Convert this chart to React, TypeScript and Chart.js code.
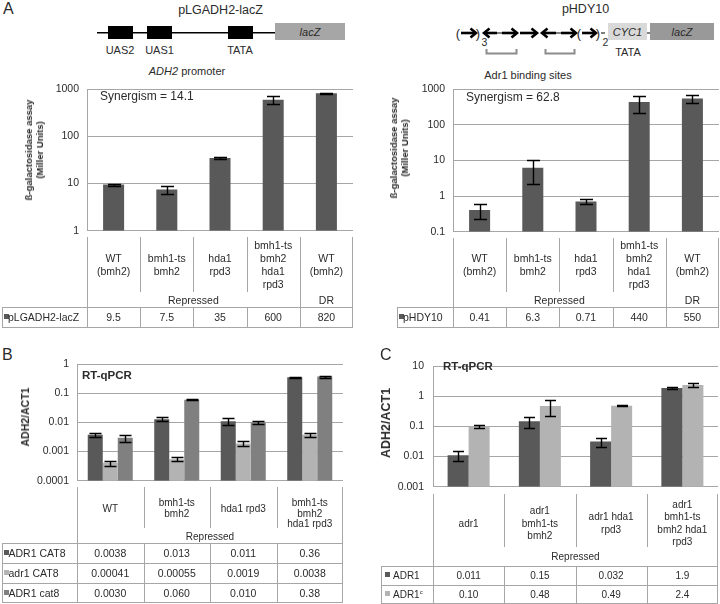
import React, { useEffect, useRef } from "react";
import { Chart, registerables } from "chart.js";
Chart.register(...registerables);

const FONT = '"Liberation Sans", Arial, Helvetica, sans-serif';
const GRID = "#a6a6a6";
const TEXT = "#2b2b2b";
const DARK = "#595959";
const LIGHT = "#b3b3b3";
const MID = "#808080";

// ---------- Panel A ----------
const aCategories = [
  ["WT", "(bmh2)"],
  ["bmh1-ts", "bmh2"],
  ["hda1", "rpd3"],
  ["bmh1-ts", "bmh2", "hda1", "rpd3"],
  ["WT", "(bmh2)"],
];
const aGroups = [
  { from: 0, to: 3, text: "Repressed" },
  { from: 4, to: 4, text: "DR" },
];
const aLeftName = "pLGADH2-lacZ";
const aLeftValues = [9.5, 7.5, 35, 600, 820];
const aLeftErrors = [0.45, 1.5, 1, 110, 15];
const aLeftTicks = [1, 10, 100, 1000];
const aRightName = "pHDY10";
const aRightValues = [0.41, 6.3, 0.71, 440, 550];
const aRightErrors = [0.18, 4.1, 0.12, 225, 130];
const aRightTicks = [0.1, 1, 10, 100, 1000];
const aYTitle = ["ß-galactosidase assay", "(Miller Units)"];

// ---------- Panel B ----------
const bCategories = [["WT"], ["bmh1-ts", "bmh2"], ["hda1 rpd3"], ["bmh1-ts", "bmh2", "hda1 rpd3"]];
const bSeriesNames = ["ADR1 CAT8", "adr1 CAT8", "ADR1 cat8"];
const bADR1CAT8 = [0.0038, 0.013, 0.011, 0.36];
const bADR1CAT8Err = [0.0006, 0.002, 0.003, 0.02];
const badr1CAT8 = [0.00041, 0.00055, 0.0019, 0.0038];
const badr1CAT8Err = [0.00008, 0.00008, 0.0004, 0.0006];
const bADR1cat8 = [0.003, 0.06, 0.01, 0.38];
const bADR1cat8Err = [0.0008, 0.002, 0.0012, 0.03];
const bTicks = [0.0001, 0.001, 0.01, 0.1, 1];

// ---------- Panel C ----------
const cCategories = [["adr1"], ["adr1", "bmh1-ts", "bmh2"], ["adr1 hda1", "rpd3"], ["adr1", "bmh1-ts", "bmh2 hda1", "rpd3"]];
const cADR1 = [0.011, 0.15, 0.032, 1.9];
const cADR1Err = [0.004, 0.06, 0.011, 0.15];
const cADR1c = [0.1, 0.48, 0.49, 2.4];
const cADR1cErr = [0.013, 0.26, 0.01, 0.3];
const cTicks = [0.001, 0.01, 0.1, 1, 10];
const qYTitle = ["ADH2/ACT1"];

const fmt2 = (v: number) => v.toPrecision(2);

const errorBarPlugin = {
  id: "errorBars",
  afterDatasetsDraw(chart: any, _args: any, opts: any) {
    const { ctx } = chart;
    const y = chart.scales.y;
    const cap = opts.cap || 12;
    chart.data.datasets.forEach((ds: any, i: number) => {
      const meta = chart.getDatasetMeta(i);
      meta.data.forEach((bar: any, j: number) => {
        const v = ds.data[j];
        const e = ds.errors[j];
        const yt = Math.round(y.getPixelForValue(v + e)) + 0.5;
        const yb = Math.round(y.getPixelForValue(v - e)) + 0.5;
        const x = Math.round(bar.x) + 0.5;
        ctx.save();
        ctx.strokeStyle = "#000";
        ctx.lineWidth = 1.4;
        ctx.beginPath();
        ctx.moveTo(x, yt);
        ctx.lineTo(x, yb);
        ctx.moveTo(x - cap / 2, yt);
        ctx.lineTo(x + cap / 2, yt);
        ctx.moveTo(x - cap / 2, yb);
        ctx.lineTo(x + cap / 2, yb);
        ctx.stroke();
        ctx.restore();
      });
    });
  },
};

type DS = { values: number[]; errors: number[]; color: string };

function LogBarChart(props: {
  x0: number; left: number; right: number; top: number; bottom: number;
  labels: string[][]; datasets: DS[]; ticks: number[]; catPct: number; cap: number;
  tickSize: number; tickPad: number;
}) {
  const ref = useRef<HTMLCanvasElement>(null);
  const { x0, left, right, top, bottom, labels, datasets, ticks, catPct, cap, tickSize, tickPad } = props;
  useEffect(() => {
    const chart = new Chart(ref.current as HTMLCanvasElement, {
      type: "bar",
      data: {
        labels: labels.map((l) => l.join(" ")),
        datasets: datasets.map((d) => ({
          data: d.values,
          errors: d.errors,
          backgroundColor: d.color,
          borderWidth: 0,
          barPercentage: 1,
          categoryPercentage: catPct,
        })) as any,
      },
      options: {
        responsive: false,
        animation: false,
        devicePixelRatio: 1,
        layout: { padding: { left: 0, right: 0, top: 8, bottom: 8 } },
        plugins: {
          legend: { display: false },
          tooltip: { enabled: false },
          errorBars: { cap },
        } as any,
        scales: {
          x: { display: false },
          y: {
            type: "logarithmic",
            min: ticks[0],
            max: ticks[ticks.length - 1],
            afterBuildTicks: (s: any) => {
              s.ticks = ticks.map((v) => ({ value: v }));
            },
            afterFit: (s: any) => {
              s.width = left - x0;
            },
            ticks: {
              callback: (v: any) => String(v),
              font: { family: FONT, size: tickSize },
              color: TEXT,
              padding: tickPad,
              autoSkip: false,
            },
            grid: { color: GRID, drawTicks: false, lineWidth: 1 },
            border: { display: true, color: GRID, width: 1 },
          } as any,
        },
      },
      plugins: [errorBarPlugin],
    });
    return () => chart.destroy();
  }, []);
  return (
    <canvas
      ref={ref}
      width={right - x0}
      height={bottom - top + 16}
      style={{ position: "absolute", left: x0, top: top - 8, display: "block" }}
    />
  );
}

function Txt(props: {
  x: number; y: number; children: any; size?: number; align?: "left" | "center" | "right";
  bold?: boolean; italic?: boolean; w?: number; color?: string;
}) {
  const { x, y, children, size = 10.5, align = "center", bold = false, italic = false, w = 240, color = TEXT } = props;
  const lh = Math.round(size * 1.3);
  const left = align === "center" ? x - w / 2 : align === "left" ? x : x - w;
  return (
    <div
      style={{
        position: "absolute", left, top: y - lh / 2, width: w, height: lh, lineHeight: lh + "px",
        fontSize: size, textAlign: align, fontWeight: bold ? "bold" : "normal",
        fontStyle: italic ? "italic" : "normal", whiteSpace: "nowrap", color,
      }}
    >
      {children}
    </div>
  );
}

function YTitle(props: { cx: number; cy: number; lines: string[]; size: number; lh: number }) {
  const { cx, cy, lines, size, lh } = props;
  return (
    <div
      style={{
        position: "absolute", left: cx, top: cy, transform: "translate(-50%,-50%) rotate(-90deg)",
        fontWeight: "bold", fontSize: size, lineHeight: lh + "px", textAlign: "center",
        whiteSpace: "nowrap", color: TEXT,
      }}
    >
      {lines.map((l, i) => (
        <div key={i}>{l}</div>
      ))}
    </div>
  );
}

type Row = { name: any; color: string; values: string[] };

function GridTable(p: {
  left: number; plotL: number; plotR: number; catTop: number; sepEnd: number;
  labels: string[][]; labelCenter: number; lh: number; minFirst?: number; labelSize: number;
  groups: { from: number; to: number; text: string }[]; groupY: number; fullSeps: number[];
  rowsTop: number; rowH: number; rows: Row[]; font: number; sqX: number; nameX: number;
}) {
  const n = p.labels.length;
  const w = (p.plotR - p.plotL) / n;
  const bottom = p.rowsTop + p.rows.length * p.rowH;
  const els: any[] = [];
  const V = (x: number, y1: number, y2: number, k: string) =>
    els.push(
      <div key={k} style={{ position: "absolute", left: Math.round(x), top: Math.round(y1), width: 1, height: Math.round(y2) - Math.round(y1), background: GRID }} />
    );
  const H = (y: number, x1: number, x2: number, k: string) =>
    els.push(
      <div key={k} style={{ position: "absolute", left: Math.round(x1), top: Math.round(y), width: Math.round(x2) - Math.round(x1), height: 1, background: GRID }} />
    );
  V(p.plotL, p.catTop, bottom + 1, "vl");
  V(p.plotR - 1, p.catTop, bottom + 1, "vr");
  for (let k = 1; k < n; k++) {
    const x = p.plotL + k * w;
    const full = p.fullSeps.includes(k);
    V(x, p.catTop, full ? bottom : p.sepEnd, "vc" + k);
    if (!full) V(x, p.rowsTop, bottom, "vd" + k);
  }
  V(p.left, p.rowsTop, bottom + 1, "vf");
  for (let r = 0; r <= p.rows.length; r++) H(p.rowsTop + r * p.rowH, p.left, p.plotR, "h" + r);
  p.labels.forEach((lines, i) => {
    const cx = p.plotL + (i + 0.5) * w;
    let first = p.labelCenter - ((lines.length - 1) * p.lh) / 2;
    if (p.minFirst !== undefined) first = Math.max(first, p.minFirst);
    lines.forEach((t, j) =>
      els.push(
        <Txt key={"l" + i + "_" + j} x={cx} y={first + j * p.lh} size={p.labelSize} w={w + 20}>
          {t}
        </Txt>
      )
    );
  });
  p.groups.forEach((g, i) => {
    const cx = p.plotL + ((g.from + g.to + 1) / 2) * w;
    els.push(
      <Txt key={"g" + i} x={cx} y={p.groupY} size={p.labelSize}>
        {g.text}
      </Txt>
    );
  });
  p.rows.forEach((r, i) => {
    const cy = p.rowsTop + (i + 0.5) * p.rowH;
    els.push(
      <div key={"sq" + i} style={{ position: "absolute", left: p.left + p.sqX, top: Math.round(cy - 3), width: 5, height: 5, background: r.color }} />
    );
    els.push(
      <Txt key={"n" + i} x={p.left + p.nameX} y={cy} size={p.font} align="left" w={p.plotL - p.left - p.nameX}>
        {r.name}
      </Txt>
    );
    r.values.forEach((v, j) =>
      els.push(
        <Txt key={"v" + i + "_" + j} x={p.plotL + (j + 0.5) * w} y={cy} size={p.font} w={w}>
          {v}
        </Txt>
      )
    );
  });
  return <>{els}</>;
}

function RightArrow({ x1, x2, y }: { x1: number; x2: number; y: number }) {
  const d = x2 > x1 ? 1 : -1;
  return (
    <g stroke="#000" strokeWidth={2.6} fill="none">
      <line x1={x1} y1={y} x2={x2 - d * 1.5} y2={y} />
      <polyline points={`${x2 - d * 5.5},${y - 4.5} ${x2},${y} ${x2 - d * 5.5},${y + 4.5}`} strokeLinejoin="miter" />
    </g>
  );
}

function Diagrams() {
  const y = 33;
  const st = { fontFamily: FONT, fill: TEXT } as any;
  return (
    <svg width={720} height={90} style={{ position: "absolute", left: 0, top: 0 }}>
      {/* pLGADH2-lacZ */}
      <line x1={97} y1={32.7} x2={275} y2={32.7} stroke="#000" strokeWidth={1.5} />
      <rect x={108} y={26} width={25} height={13} fill="#000" />
      <rect x={147} y={26} width={25} height={13} fill="#000" />
      <rect x={228} y={26} width={25} height={13} fill="#000" />
      <rect x={275} y={23} width={70} height={17} fill="#a6a6a6" />
      <text x={310} y={31.5} fontSize={11} fontStyle="italic" textAnchor="middle" dominantBaseline="central" {...st}>lacZ</text>
      <text x={120} y={49.5} fontSize={11} textAnchor="middle" dominantBaseline="central" {...st}>UAS2</text>
      <text x={159.5} y={49.5} fontSize={11} textAnchor="middle" dominantBaseline="central" {...st}>UAS1</text>
      <text x={240} y={49.5} fontSize={11} textAnchor="middle" dominantBaseline="central" {...st}>TATA</text>
      <text x={187} y={70.7} fontSize={11} textAnchor="middle" dominantBaseline="central" {...st}>
        <tspan fontStyle="italic">ADH2</tspan> promoter
      </text>

      {/* pHDY10 */}
      <text x={458} y={y} fontSize={13} textAnchor="middle" dominantBaseline="central" {...st}>(</text>
      <RightArrow x1={461} x2={476} y={y} />
      <text x={478} y={y} fontSize={13} textAnchor="middle" dominantBaseline="central" {...st}>)</text>
      <text x={484.5} y={42} fontSize={10.5} textAnchor="middle" dominantBaseline="central" {...st}>3</text>
      <RightArrow x1={497} x2={484} y={y} />
      <line x1={497} y1={y} x2={502} y2={y} stroke="#000" strokeWidth={1} />
      <RightArrow x1={502} x2={517} y={y} />
      <RightArrow x1={520} x2={537} y={y} />
      <RightArrow x1={556} x2={542} y={y} />
      <line x1={556} y1={y} x2={561} y2={y} stroke="#000" strokeWidth={1} />
      <RightArrow x1={561} x2={576} y={y} />
      <text x={579} y={y} fontSize={13} textAnchor="middle" dominantBaseline="central" {...st}>(</text>
      <RightArrow x1={582} x2={596} y={y} />
      <text x={598} y={y} fontSize={13} textAnchor="middle" dominantBaseline="central" {...st}>)</text>
      <line x1={601} y1={y} x2={605} y2={y} stroke="#000" strokeWidth={1} />
      <text x={605.5} y={42} fontSize={10.5} textAnchor="middle" dominantBaseline="central" {...st}>2</text>
      <rect x={608} y={23} width={39} height={17} fill="#d9d9d9" />
      <text x={627.5} y={31.5} fontSize={11} fontStyle="italic" textAnchor="middle" dominantBaseline="central" {...st}>CYC1</text>
      <line x1={647} y1={y} x2={650} y2={y} stroke="#000" strokeWidth={1} />
      <rect x={650} y={23} width={64} height={17} fill="#999999" />
      <text x={682} y={31.5} fontSize={11} fontStyle="italic" textAnchor="middle" dominantBaseline="central" {...st}>lacZ</text>
      <text x={628} y={52} fontSize={11} textAnchor="middle" dominantBaseline="central" {...st}>TATA</text>
      <path d="M486.5,49 L486.5,53.5 L516.5,53.5 L516.5,49" stroke="#8c8c8c" strokeWidth={2} fill="none" />
      <path d="M545.5,49 L545.5,53.5 L574.5,53.5 L574.5,49" stroke="#8c8c8c" strokeWidth={2} fill="none" />
      <text x={528} y={75} fontSize={11} textAnchor="middle" dominantBaseline="central" {...st}>Adr1 binding sites</text>
    </svg>
  );
}

export default function App() {
  const aLeftRows: Row[] = [{ name: aLeftName, color: DARK, values: aLeftValues.map(String) }];
  const aRightRows: Row[] = [{ name: aRightName, color: DARK, values: aRightValues.map(String) }];
  const bRows: Row[] = [
    { name: bSeriesNames[0], color: DARK, values: bADR1CAT8.map(fmt2) },
    { name: bSeriesNames[1], color: LIGHT, values: badr1CAT8.map(fmt2) },
    { name: bSeriesNames[2], color: MID, values: bADR1cat8.map(fmt2) },
  ];
  const cRows: Row[] = [
    { name: "ADR1", color: DARK, values: cADR1.map(fmt2) },
    {
      name: (
        <>
          ADR1<sup style={{ fontSize: 6, lineHeight: 0, verticalAlign: "4px" }}>c</sup>
        </>
      ),
      color: LIGHT,
      values: cADR1c.map(fmt2),
    },
  ];
  return (
    <div
      style={{
        position: "absolute", left: 0, top: 0, width: 720, height: 604, background: "#fff",
        fontFamily: FONT, color: TEXT, overflow: "hidden",
      }}
    >
      <Diagrams />
      <Txt x={3} y={8} size={16} align="left">A</Txt>
      <Txt x={220.5} y={10} size={12.5}>pLGADH2-lacZ</Txt>
      <Txt x={585.5} y={8.5} size={12.5}>pHDY10</Txt>

      {/* A left */}
      <LogBarChart x0={0} left={87} right={353} top={83} bottom={237} labels={aCategories}
        datasets={[{ values: aLeftValues, errors: aLeftErrors, color: DARK }]} ticks={aLeftTicks}
        catPct={0.395} cap={13} tickSize={10.5} tickPad={8} />
      <YTitle cx={34} cy={150} lines={aYTitle} size={9.5} lh={11} />
      <Txt x={100} y={96} size={12} align="left">Synergism = 14.1</Txt>
      <GridTable left={2} plotL={87} plotR={353} catTop={237} sepEnd={292} labels={aCategories}
        labelCenter={264.3} lh={13} labelSize={10.5} groups={aGroups} groupY={300} fullSeps={[4]}
        rowsTop={307} rowH={19.5} rows={aLeftRows} font={10.5} sqX={1.5} nameX={6} />

      {/* A right */}
      <LogBarChart x0={360} left={453} right={719} top={83} bottom={238} labels={aCategories}
        datasets={[{ values: aRightValues, errors: aRightErrors, color: DARK }]} ticks={aRightTicks}
        catPct={0.395} cap={13} tickSize={10.5} tickPad={8} />
      <YTitle cx={399} cy={148} lines={aYTitle} size={9.5} lh={11} />
      <Txt x={466} y={97.3} size={12} align="left">Synergism = 62.8</Txt>
      <GridTable left={397} plotL={453} plotR={719} catTop={238} sepEnd={292} labels={aCategories}
        labelCenter={264.3} lh={13} labelSize={10.5} groups={aGroups} groupY={300} fullSeps={[4]}
        rowsTop={307} rowH={19.5} rows={aRightRows} font={10.5} sqX={1.5} nameX={6} />

      {/* B */}
      <Txt x={2} y={354} size={16} align="left">B</Txt>
      <LogBarChart x0={0} left={77} right={343} top={358} bottom={487} labels={bCategories}
        datasets={[
          { values: bADR1CAT8, errors: bADR1CAT8Err, color: DARK },
          { values: badr1CAT8, errors: badr1CAT8Err, color: LIGHT },
          { values: bADR1cat8, errors: bADR1cat8Err, color: MID },
        ]}
        ticks={bTicks} catPct={0.677} cap={12} tickSize={10.5} tickPad={8} />
      <YTitle cx={25} cy={417} lines={qYTitle} size={10.5} lh={12} />
      <Txt x={82} y={375} size={11.5} align="left" bold>RT-qPCR</Txt>
      <GridTable left={2} plotL={77} plotR={343} catTop={487} sepEnd={528} labels={bCategories}
        labelCenter={508} lh={10.5} minFirst={502.7} labelSize={10} groups={[{ from: 0, to: 3, text: "Repressed" }]}
        groupY={536.7} fullSeps={[]} rowsTop={543.3} rowH={19.7} rows={bRows} font={10.5} sqX={1.5} nameX={6.5} />

      {/* C */}
      <Txt x={380} y={354} size={16} align="left">C</Txt>
      <LogBarChart x0={360} left={433} right={718} top={359} bottom={494} labels={cCategories}
        datasets={[
          { values: cADR1, errors: cADR1Err, color: DARK },
          { values: cADR1c, errors: cADR1cErr, color: LIGHT },
        ]}
        ticks={cTicks} catPct={0.59} cap={11} tickSize={10.5} tickPad={9} />
      <YTitle cx={386} cy={423} lines={qYTitle} size={12.5} lh={14} />
      <Txt x={443} y={366.7} size={11.5} align="left" bold>RT-qPCR</Txt>
      <GridTable left={381} plotL={433} plotR={718} catTop={494} sepEnd={547} labels={cCategories}
        labelCenter={523} lh={12.3} labelSize={10} groups={[{ from: 0, to: 3, text: "Repressed" }]}
        groupY={556.7} fullSeps={[]} rowsTop={566} rowH={18.7} rows={cRows} font={10} sqX={4} nameX={12} />
    </div>
  );
}
